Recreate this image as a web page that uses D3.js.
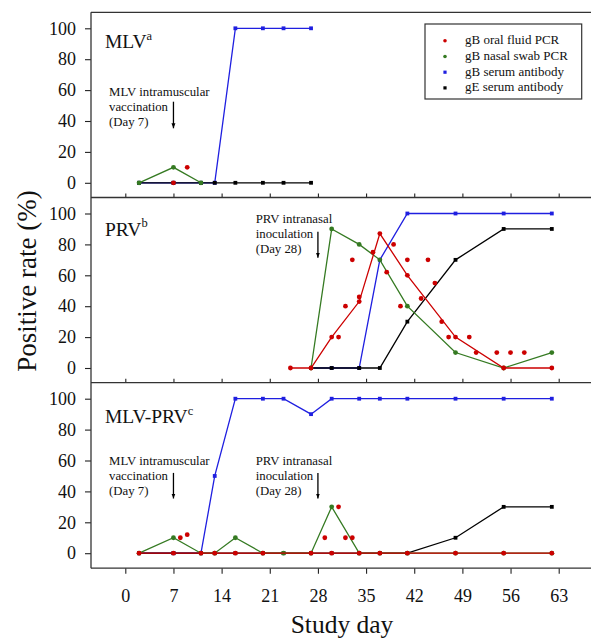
<!DOCTYPE html>
<html>
<head>
<meta charset="utf-8">
<script src="https://cdn.jsdelivr.net/npm/d3@7"></script>
<style>
  html, body { margin: 0; padding: 0; background: #fff; }
  svg { display: block; }
  svg text { font-family: "Liberation Serif", "Times New Roman", serif; fill: #111; }
</style>
</head>
<body>
<svg id="chart" width="591" height="641" font-family="Liberation Serif"></svg>
<script>
// ---------------- DATA ----------------
const xTicks = [0, 7, 14, 21, 28, 35, 42, 49, 56, 63];
const yTicks = [0, 20, 40, 60, 80, 100];
const seriesNames = ["gB oral fluid PCR", "gB nasal swab PCR", "gB serum antibody", "gE serum antibody"];

// Panel 1: MLV
const mlvDays = [2, 7, 11, 13, 16, 20, 23, 27];
const mlvBlue = [0, 0, 0, 0, 100, 100, 100, 100];
const mlvBlack = [0, 0, 0, 0, 0, 0, 0, 0];
const mlvGreenDays = [2, 7, 11];
const mlvGreen = [0, 10, 0];
const mlvRedDays = [];
const mlvRed = [];
const mlvRedDotDays = [7, 9];
const mlvRedDotVals = [0, 10];

// Panel 2: PRV
const prvRedDays = [24, 27, 30, 34, 37, 41, 48, 55, 62];
const prvRed = [0, 0, 20, 43, 87, 60, 20, 0, 0];
const prvDays = [27, 30, 34, 37, 41, 48, 55, 62];
const prvGreen = [0, 90, 80, 70, 40, 10, 0, 10];
const prvBlue = [0, 0, 0, 70, 100, 100, 100, 100];
const prvBlack = [0, 0, 0, 0, 30, 70, 90, 90];
const prvRedDotDays = [31, 32, 33, 34, 36, 38, 39, 40, 41, 43, 44, 45, 46, 47, 50, 51, 54, 56, 58];
const prvRedDotVals = [20, 40, 70, 46, 75, 62, 80, 40, 70, 45, 70, 55, 30, 20, 20, 10, 10, 10, 10];

// Panel 3: MLV-PRV
const mpDays = [2, 7, 11, 13, 16, 20, 23, 27, 30, 34, 37, 41, 48, 55, 62];
const mpBlue = [0, 0, 0, 50, 100, 100, 100, 90, 100, 100, 100, 100, 100, 100, 100];
const mpBlack = [0, 0, 0, 0, 0, 0, 0, 0, 0, 0, 0, 0, 10, 30, 30];
const mpGreen = [0, 10, 0, 0, 10, 0, 0, 0, 30, 0, 0, 0, 0, 0, 0];
const mpRedDays = [2, 7, 11, 13, 16, 20, 27, 30, 34, 37, 41, 48, 55, 62];
const mpRed = [0, 0, 0, 0, 0, 0, 0, 0, 0, 0, 0, 0, 0, 0];
const mpRedDotDays = [8, 9, 29, 31, 32, 33];
const mpRedDotVals = [10, 12, 10, 30, 10, 10];

// ---------------- STYLE / LAYOUT ----------------
const FONT = "Liberation Serif";
const colors = { red: "#cc0000", green: "#357a22", blue: "#1f1fe0", black: "#000000" };
const svg = d3.select("#chart");
const plotLeft = 91, plotRight = 600;
const panelTops = [12.3, 197.5, 382.7];
const panelBottom = 568.2;
const x = d3.scaleLinear().domain([0, 63]).range([125.3, 558.7]);

const zip = (a, b) => a.map((d, i) => [d, b[i]]);

const panels = [
  {
    label: "MLV", sup: "a", labelDy: 36,
    series: [
      { c: "blue", shape: "sq", data: zip(mlvDays, mlvBlue) },
      { c: "black", shape: "sq", data: zip(mlvDays, mlvBlack) },
      { c: "green", shape: "ci", data: zip(mlvGreenDays, mlvGreen) },
      { c: "red", shape: "ci", data: zip(mlvRedDays, mlvRed) }
    ],
    dots: zip(mlvRedDotDays, mlvRedDotVals),
    notes: [{ day: 7, tx: 109, lines: ["MLV intramuscular", "vaccination", "(Day 7)"], ty: 83.4, a1: 89.4, a2: 116 }]
  },
  {
    label: "PRV", sup: "b", labelDy: 38.2,
    series: [
      { c: "blue", shape: "sq", data: zip(prvDays, prvBlue) },
      { c: "black", shape: "sq", data: zip(prvDays, prvBlack) },
      { c: "green", shape: "ci", data: zip(prvDays, prvGreen) },
      { c: "red", shape: "ci", data: zip(prvRedDays, prvRed) }
    ],
    dots: zip(prvRedDotDays, prvRedDotVals),
    notes: [{ day: 28, tx: 255.7, lines: ["PRV intranasal", "inoculation", "(Day 28)"], ty: 25.8, a1: 34.2, a2: 60.2 }]
  },
  {
    label: "MLV-PRV", sup: "c", labelDy: 40.6,
    series: [
      { c: "blue", shape: "sq", data: zip(mpDays, mpBlue) },
      { c: "black", shape: "sq", data: zip(mpDays, mpBlack) },
      { c: "green", shape: "ci", data: zip(mpDays, mpGreen) },
      { c: "red", shape: "ci", data: zip(mpRedDays, mpRed) }
    ],
    dots: zip(mpRedDotDays, mpRedDotVals),
    notes: [
      { day: 7, tx: 109, lines: ["MLV intramuscular", "vaccination", "(Day 7)"], ty: 82.5, a1: 90.2, a2: 115.8 },
      { day: 28, tx: 255.7, lines: ["PRV intranasal", "inoculation", "(Day 28)"], ty: 82.5, a1: 90.2, a2: 115.8 }
    ]
  }
];

// arrow marker
svg.append("defs").append("marker")
  .attr("id", "arrow").attr("viewBox", "0 0 10 10")
  .attr("refX", 10).attr("refY", 5)
  .attr("markerWidth", 5).attr("markerHeight", 5).attr("markerUnits", "userSpaceOnUse")
  .attr("orient", "auto")
  .append("path").attr("d", "M0,1 L10,5 L0,9 Z").attr("fill", "#000");

panels.forEach((p, pi) => {
  const top = panelTops[pi];
  const y = d3.scaleLinear().domain([0, 100]).range([top + 170.5, top + 16]);
  const g = svg.append("g").attr("font-family", FONT);

  // y axis
  const ya = g.append("g").attr("transform", `translate(${plotLeft},0)`)
    .call(d3.axisLeft(y).tickValues(yTicks).tickSize(6).tickPadding(9));
  ya.attr("font-family", FONT);
  ya.select(".domain").remove();
  ya.selectAll("line").attr("stroke", "#222").attr("stroke-width", 1.1);
  ya.selectAll("text").attr("font-size", 18).attr("font-family", FONT).attr("fill", "#111");

  // x ticks
  if (pi < 2) {
    const xa = g.append("g").attr("transform", `translate(0,${panelTops[pi + 1]})`)
      .call(d3.axisBottom(x).tickValues(xTicks).tickSize(-4).tickFormat(""));
    xa.select(".domain").remove();
    xa.selectAll("line").attr("stroke", "#222").attr("stroke-width", 1.1);
  } else {
    const xa = g.append("g").attr("transform", `translate(0,${panelBottom})`)
      .call(d3.axisBottom(x).tickValues(xTicks).tickSize(5.5).tickPadding(8));
    xa.attr("font-family", FONT);
    xa.select(".domain").remove();
    xa.selectAll("line").attr("stroke", "#222").attr("stroke-width", 1.1);
    xa.selectAll("text").attr("font-size", 18).attr("font-family", FONT).attr("fill", "#111")
      .attr("dy", null).attr("y", 33.5);
  }

  // panel label
  const lt = g.append("text").attr("x", 105).attr("y", top + p.labelDy)
    .attr("font-size", 19.5).attr("font-family", FONT);
  lt.append("tspan").text(p.label);
  lt.append("tspan").attr("font-size", 12.5).attr("dy", -8.5).text(p.sup);

  // annotations
  p.notes.forEach(n => {
    const t = g.append("text").attr("font-size", 12.8).attr("font-family", FONT);
    n.lines.forEach((s, i) => t.append("tspan").attr("x", n.tx).attr("y", top + n.ty + i * 15).text(s));
    g.append("line").attr("x1", x(n.day)).attr("x2", x(n.day))
      .attr("y1", top + n.a1).attr("y2", top + n.a2)
      .attr("stroke", "#000").attr("stroke-width", 1.3).attr("marker-end", "url(#arrow)");
  });

  // series
  const line = d3.line().x(d => x(d[0])).y(d => y(d[1]));
  p.series.forEach(s => {
    if (!s.data.length) return;
    g.append("path").datum(s.data).attr("d", line)
      .attr("fill", "none").attr("stroke", colors[s.c]).attr("stroke-width", 1.3);
    if (s.shape === "sq") {
      g.selectAll(null).data(s.data).enter().append("rect")
        .attr("x", d => x(d[0]) - 1.9).attr("y", d => y(d[1]) - 1.9)
        .attr("width", 3.8).attr("height", 3.8).attr("fill", colors[s.c]);
    } else {
      g.selectAll(null).data(s.data).enter().append("circle")
        .attr("cx", d => x(d[0])).attr("cy", d => y(d[1])).attr("r", 2.4).attr("fill", colors[s.c]);
    }
  });
  g.selectAll(null).data(p.dots).enter().append("circle")
    .attr("cx", d => x(d[0])).attr("cy", d => y(d[1])).attr("r", 2.4).attr("fill", colors.red);
});

// frame
const frame = svg.append("g").attr("stroke", "#333").attr("stroke-width", 1.3).attr("fill", "none");
[panelTops[0], panelTops[1], panelTops[2], panelBottom].forEach(yy =>
  frame.append("line").attr("x1", plotLeft).attr("x2", plotRight).attr("y1", yy).attr("y2", yy));
frame.append("line").attr("x1", plotLeft).attr("x2", plotLeft).attr("y1", panelTops[0]).attr("y2", panelBottom);

// legend
const lg = svg.append("g").attr("font-family", FONT);
lg.append("rect").attr("x", 425).attr("y", 24).attr("width", 156.7).attr("height", 75)
  .attr("fill", "#fff").attr("stroke", "#333").attr("stroke-width", 1.2);
const legColors = ["red", "green", "blue", "black"];
const legShapes = ["ci", "ci", "sq", "sq"];
seriesNames.forEach((name, i) => {
  const by = 44.3 + i * 15.7;
  if (legShapes[i] === "ci") {
    lg.append("circle").attr("cx", 445).attr("cy", by - 3.5).attr("r", 1.8).attr("fill", colors[legColors[i]]);
  } else {
    lg.append("rect").attr("x", 443.4).attr("y", by - 5.1).attr("width", 3.2).attr("height", 3.2).attr("fill", colors[legColors[i]]);
  }
  lg.append("text").attr("x", 465).attr("y", by).attr("font-size", 13).attr("font-family", FONT).text(name);
});

// axis titles
svg.append("text").attr("transform", "translate(36,281) rotate(-90)")
  .attr("text-anchor", "middle").attr("font-size", 27).attr("font-family", FONT).text("Positive rate (%)");
svg.append("text").attr("x", x(31.5)).attr("y", 633)
  .attr("text-anchor", "middle").attr("font-size", 25.5).attr("font-family", FONT).text("Study day");
</script>
</body>
</html>
